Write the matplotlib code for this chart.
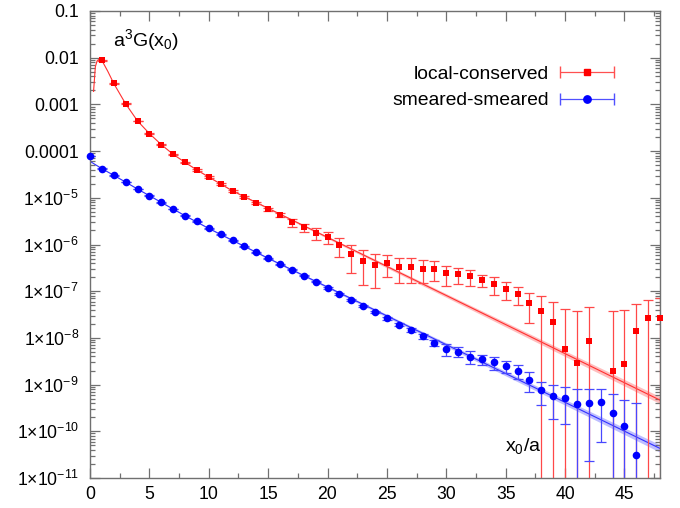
import numpy as np
import matplotlib
matplotlib.use('Agg')
import matplotlib.pyplot as plt
from matplotlib.ticker import MultipleLocator, LogLocator, NullFormatter, FuncFormatter, FixedLocator
from matplotlib.legend_handler import HandlerErrorbar
from matplotlib.container import ErrorbarContainer

plt.rcParams['font.family'] = ['Liberation Sans', 'DejaVu Sans']
plt.rcParams['mathtext.fontset'] = 'custom'
plt.rcParams['mathtext.rm'] = 'Liberation Sans'
plt.rcParams['mathtext.it'] = 'Liberation Sans:italic'
plt.rcParams['mathtext.default'] = 'regular'

# local-conserved correlator (x0 = 1..48, 43 not shown)
lc_x = np.arange(1, 49)
lc_val = [8.75e-3, 2.81e-3, 1.03e-3, 4.43e-4, 2.38e-4, 1.38e-4, 8.53e-5, 5.75e-5,
          3.93e-5, 2.78e-5, 1.97e-5, 1.42e-5, 1.02e-5, 7.70e-6, 5.64e-6, 4.26e-6,
          2.97e-6, 2.32e-6, 1.75e-6, 1.43e-6, 9.52e-7, 6.19e-7, 4.47e-7, 3.67e-7,
          4.05e-7, 3.32e-7, 3.32e-7, 3.05e-7, 3.05e-7, 2.42e-7, 2.31e-7, 2.09e-7,
          1.75e-7, 1.44e-7, 1.12e-7, 8.59e-8, 5.61e-8, 3.78e-8, 2.15e-8, 5.66e-9,
          2.84e-9, 8.41e-9, np.nan, 1.98e-9, 2.70e-9, 1.38e-8, 2.71e-8, 2.62e-8]
lc_err = [2e-4, 6e-5, 2e-5, 9e-6, 5e-6, 3e-6, 2e-6, 1.5e-6,
          1.1e-6, 9e-7, 7e-7, 6e-7, 5e-7, 4.5e-7, 4e-7, 4.5e-7,
          5.9e-7, 4.6e-7, 4.9e-7, 4.1e-7, 4.1e-7, 3.7e-7, 3.1e-7, 2.5e-7,
          2.0e-7, 1.8e-7, 1.85e-7, 1.55e-7, 1.4e-7, 1.1e-7, 8.5e-8, 7.7e-8,
          5.2e-8, 6.2e-8, 4.6e-8, 3.6e-8, 3.5e-8, 4.0e-8, 3.6e-8, 3.5e-8,
          3.55e-8, 3.8e-8, np.nan, 3.6e-8, 3.6e-8, 3.9e-8, 3.9e-8, 4.4e-8]

# smeared-smeared correlator (x0 = 0..46)
ss_x = np.arange(0, 47)
ss_val = [7.85e-5, 4.21e-5, 3.03e-5, 2.17e-5, 1.54e-5, 1.11e-5, 7.97e-6, 5.73e-6,
          4.13e-6, 3.12e-6, 2.21e-6, 1.64e-6, 1.24e-6, 9.20e-7, 6.84e-7, 5.08e-7,
          3.82e-7, 2.87e-7, 2.13e-7, 1.61e-7, 1.18e-7, 8.75e-8, 6.50e-8, 4.84e-8,
          3.60e-8, 2.62e-8, 1.92e-8, 1.45e-8, 1.10e-8, 7.89e-9, 5.78e-9, 5.06e-9,
          3.95e-9, 3.49e-9, 2.98e-9, 2.49e-9, 1.98e-9, 1.26e-9, 7.55e-10, 5.75e-10,
          5.16e-10, 3.87e-10, 4.13e-10, 4.28e-10, 2.48e-10, 1.29e-10, 3.12e-11]
ss_err = [1.5e-6, 8e-7, 6e-7, 4e-7, 3e-7, 2e-7, 1.5e-7, 1.1e-7,
          8e-8, 6e-8, 4.5e-8, 3.5e-8, 2.6e-8, 2e-8, 1.5e-8, 1.2e-8,
          9e-9, 7e-9, 6e-9, 5e-9, 4e-9, 3.5e-9, 3e-9, 2.4e-9,
          2e-9, 1.7e-9, 1.5e-9, 1.4e-9, 1.3e-9, 1.3e-9, 1.6e-9, 1.2e-9,
          1.2e-9, 9e-10, 9.7e-10, 7.5e-10, 6.8e-10, 5.6e-10, 3.9e-10, 3.9e-10,
          3.7e-10, 4.1e-10, 3.9e-10, 3.7e-10, 3.8e-10, 3.4e-10, 3.8e-10]

# fit curves and error bands
lc_fit_x = [0.3, 0.45, 0.6, 0.8, 1.0, 1.5, 2, 3, 4, 5, 6, 7, 8, 9, 10, 12, 48]
lc_fit_y = [1.9e-3, 6.4e-3, 8.6e-3, 9.4e-3, 8.75e-3, 5.1e-3, 2.81e-3, 1.03e-3,
            4.43e-4, 2.38e-4, 1.38e-4, 8.53e-5, 5.75e-5, 3.93e-5, 2.78e-5,
            1.41e-5, 4.65e-10]
lc_band_x = [8, 12, 20, 30, 40, 48]
lc_band_lo = [5.65e-5, 1.37e-5, 1.34e-6, 7.38e-8, 4.01e-9, 3.91e-10]
lc_band_hi = [5.86e-5, 1.45e-5, 1.51e-6, 8.87e-8, 5.28e-9, 5.52e-10]

ss_fit_x = [0, 1, 2, 3, 4, 5, 6, 8, 10, 15, 48]
ss_fit_y = [6.04e-5, 4.21e-5, 3.03e-5, 2.17e-5, 1.54e-5, 1.11e-5, 7.97e-6,
            4.13e-6, 2.21e-6, 5.08e-7, 4.3e-11]
ss_band_x = [2, 10, 15, 30, 40, 48]
ss_band_lo = [2.99e-5, 2.15e-6, 4.91e-7, 6.53e-9, 3.64e-10, 3.57e-11]
ss_band_hi = [3.06e-5, 2.25e-6, 5.26e-7, 7.85e-9, 4.80e-10, 5.16e-11]

y_decades = list(range(-11, 0))


def ylabel_fmt(v, pos):
    e = int(round(np.log10(v)))
    if e >= -4:
        return f'{v:.{-e}f}'
    return '1\u00d710$^{%d}$' % e


def main():
    fig = plt.figure(figsize=(6.8, 5.08), dpi=100)
    ax = fig.add_axes([90 / 680, 30 / 508, 570 / 680, 467 / 508])
    ax.set_yscale('log')

    ax.fill_between(lc_band_x, lc_band_lo, lc_band_hi, color='#ff7070', alpha=0.45, lw=0)
    ax.fill_between(ss_band_x, ss_band_lo, ss_band_hi, color='#7070ff', alpha=0.45, lw=0)
    ax.plot(lc_fit_x, lc_fit_y, color='#ff3030', lw=0.8)
    ax.plot(ss_fit_x, ss_fit_y, color='#3030ff', lw=0.8)

    ax.errorbar(lc_x, lc_val, yerr=lc_err, fmt='none', ecolor='#ff4848',
                elinewidth=0.9, capsize=3.5, capthick=0.9)
    ax.errorbar(ss_x, ss_val, yerr=ss_err, fmt='none', ecolor='#4848ff',
                elinewidth=0.9, capsize=3.5, capthick=0.9)
    ax.plot(lc_x, lc_val, 's', color='red', ms=5, mew=0, clip_on=False, zorder=4)
    ax.plot(ss_x, ss_val, 'o', color='blue', ms=5.5, mew=0, clip_on=False, zorder=4)

    # legend proxies
    h_lc = ax.errorbar([np.nan], [np.nan], xerr=[1.0], fmt='s', color='red', ms=5,
                       ecolor='#ff5050', elinewidth=0.9, capsize=4)
    h_ss = ax.errorbar([np.nan], [np.nan], xerr=[1.0], fmt='o', color='blue', ms=5.3,
                       ecolor='#5050ff', elinewidth=0.9, capsize=4)
    ax.legend([h_lc, h_ss], ['local-conserved', 'smeared-smeared'],
              loc='upper right', bbox_to_anchor=(0.95, 0.92), frameon=False,
              markerfirst=False, fontsize=13.9, handlelength=2.8,
              labelspacing=0.45, handletextpad=0.6,
              handler_map={ErrorbarContainer: HandlerErrorbar(xerr_size=1.39)})

    ax.set_xlim(0, 48)
    ax.set_ylim(1e-11, 0.1)
    ax.xaxis.set_major_locator(MultipleLocator(5))
    ax.xaxis.set_minor_locator(MultipleLocator(2.5))
    ax.yaxis.set_major_locator(FixedLocator([10.0 ** e for e in y_decades]))
    ax.yaxis.set_minor_locator(LogLocator(base=10, subs=np.arange(2, 10), numticks=20))
    ax.yaxis.set_minor_formatter(NullFormatter())
    ax.yaxis.set_major_formatter(FuncFormatter(ylabel_fmt))
    ax.tick_params(which='both', direction='in', top=True, right=True,
                   color='#707070', labelsize=12.7)
    ax.tick_params(which='major', length=7, width=0.9)
    ax.tick_params(which='minor', length=3.5, width=0.9)
    ax.tick_params(axis='y', pad=8)
    ax.tick_params(axis='x', pad=6)
    for s in ax.spines.values():
        s.set_color('#707070')
        s.set_linewidth(1.0)

    ax.text(0.04, 0.938, 'a$^3$G(x$_0$)', transform=ax.transAxes,
            fontsize=14, ha='left', va='center')
    ax.text(0.728, 0.068, 'x$_0$/a', transform=ax.transAxes,
            fontsize=14, ha='left', va='center')

    plt.savefig('out.png', dpi=100)


if __name__ == '__main__':
    main()
